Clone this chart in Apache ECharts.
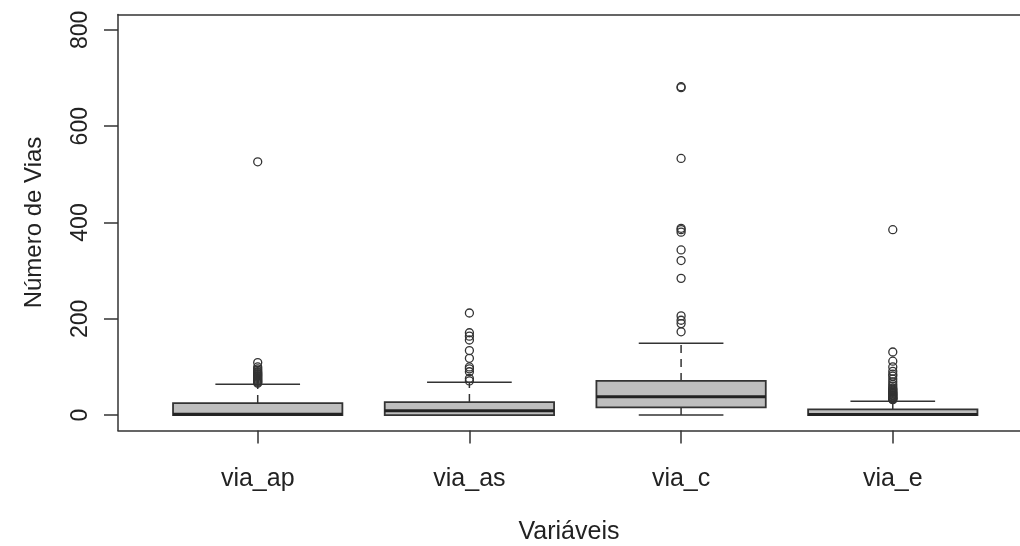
<!DOCTYPE html>
<html>
<head>
<meta charset="utf-8">
<script src="https://cdn.jsdelivr.net/npm/echarts@6/dist/echarts.min.js"></script>
<style>
html,body{margin:0;padding:0;background:#fff;}
#chart{width:1020px;height:546px;}
</style>
</head>
<body>
<div id="chart"></div>
<script>
// ---- data ----
const categories = ['via_ap', 'via_as', 'via_c', 'via_e'];
const lowerWhisker = [0, 0, 0, 0];
const q1 = [0, 0, 16, 0];
const median = [2, 9, 38, 1];
const q3 = [25, 27, 71, 12];
const upperWhisker = [64, 68, 149, 29];
const outliersViaAp = [66, 68, 70, 72, 74, 76, 78, 80, 82, 84, 86, 88, 90, 93, 96, 100, 109, 526];
const outliersViaAs = [71, 76, 90, 96, 100, 118, 134, 156, 164, 171, 212];
const outliersViaC = [173, 190, 197, 206, 284, 321, 343, 380, 385, 388, 533, 680, 682];
const outliersViaE = [32, 33, 34, 35, 36, 37, 38, 40, 41, 42, 44, 45, 47, 48, 50, 52, 54, 56, 60, 64, 69, 75, 81, 85, 91, 100, 112, 131, 385];
const yTicks = [0, 200, 400, 600, 800];
const xTitle = 'Variáveis';
const yTitle = 'Número de Vias';

const outlierLists = [outliersViaAp, outliersViaAs, outliersViaC, outliersViaE];
const boxData = categories.map((c, i) => [i + 1, lowerWhisker[i], q1[i], median[i], q3[i], upperWhisker[i]]);
const outlierData = [];
outlierLists.forEach((list, i) => list.forEach(v => outlierData.push([i + 1, v])));

const ink = '#333';
const font = '"Liberation Sans", Arial, sans-serif';
const xMin = 0.34, xMax = 4.601;

const chart = echarts.init(document.getElementById('chart'), null, {renderer: 'canvas'});
chart.setOption({
  animation: false,
  backgroundColor: '#fff',
  grid: {left: 118, right: 0, top: 14.5, bottom: 115.5, show: false, containLabel: false, outerBoundsMode: 'none'},
  xAxis: [{
    type: 'value', min: xMin, max: xMax, position: 'bottom',
    name: xTitle, nameLocation: 'middle', nameGap: 89,
    nameTextStyle: {fontFamily: font, fontSize: 25, color: '#222'},
    axisLine: {show: true, onZero: false, lineStyle: {color: ink, width: 1.5}},
    splitLine: {show: false},
    axisTick: {show: true, inside: false, customValues: [1, 2, 3, 4], length: 13, lineStyle: {color: ink, width: 1.5}},
    axisLabel: {customValues: [1, 2, 3, 4], formatter: v => categories[Math.round(v) - 1], fontFamily: font, fontSize: 25, color: '#222', margin: 36}
  }, {
    type: 'value', min: xMin, max: xMax, position: 'top',
    axisLine: {show: true, onZero: false, lineStyle: {color: ink, width: 1.5}},
    splitLine: {show: false}, axisTick: {show: false}, axisLabel: {show: false}
  }],
  yAxis: {
    type: 'value', min: -32, max: 832,
    name: yTitle, nameLocation: 'middle', nameGap: 72, nameRotate: 90,
    nameTextStyle: {fontFamily: font, fontSize: 24, color: '#222'},
    axisLine: {show: true, onZero: false, lineStyle: {color: ink, width: 1.5}},
    splitLine: {show: false},
    axisTick: {show: true, customValues: yTicks, length: 14, lineStyle: {color: ink, width: 1.5}},
    axisLabel: {customValues: yTicks, rotate: 90, fontFamily: font, fontSize: 23, color: '#222', margin: 26}
  },
  series: [
    {
      type: 'custom',
      data: boxData,
      encode: {x: 0, y: [1, 2, 3, 4, 5]},
      renderItem: function (params, api) {
        const x = api.value(0);
        const lw = api.value(1), b1 = api.value(2), md = api.value(3), b3 = api.value(4), uw = api.value(5);
        const halfBox = api.size([0.8, 0])[0] / 2;
        const halfCap = api.size([0.4, 0])[0] / 2;
        const pLW = api.coord([x, lw]), pQ1 = api.coord([x, b1]), pMd = api.coord([x, md]), pQ3 = api.coord([x, b3]), pUW = api.coord([x, uw]);
        const cx = pMd[0];
        const stroke = {stroke: ink, lineWidth: 1.5};
        return {
          type: 'group',
          children: [
            {type: 'line', shape: {x1: cx, y1: pQ3[1], x2: cx, y2: pUW[1]}, style: {stroke: ink, lineWidth: 1.5, lineDash: [8, 6]}},
            {type: 'line', shape: {x1: cx, y1: pQ1[1], x2: cx, y2: pLW[1]}, style: {stroke: ink, lineWidth: 1.5, lineDash: [8, 6]}},
            {type: 'line', shape: {x1: cx - halfCap, y1: pUW[1], x2: cx + halfCap, y2: pUW[1]}, style: stroke},
            {type: 'line', shape: {x1: cx - halfCap, y1: pLW[1], x2: cx + halfCap, y2: pLW[1]}, style: stroke},
            {type: 'rect', shape: {x: cx - halfBox, y: pQ3[1], width: 2 * halfBox, height: pQ1[1] - pQ3[1]}, style: {fill: '#bebebe', stroke: ink, lineWidth: 1.8}},
            {type: 'line', shape: {x1: cx - halfBox, y1: pMd[1], x2: cx + halfBox, y2: pMd[1]}, style: {stroke: '#222', lineWidth: 3}}
          ]
        };
      },
      z: 2
    },
    {
      type: 'scatter',
      data: outlierData,
      symbol: 'circle',
      symbolSize: 8,
      itemStyle: {color: 'rgba(0,0,0,0)', borderColor: ink, borderWidth: 1.3, opacity: 1},
      z: 3
    }
  ]
});
</script>
</body>
</html>
